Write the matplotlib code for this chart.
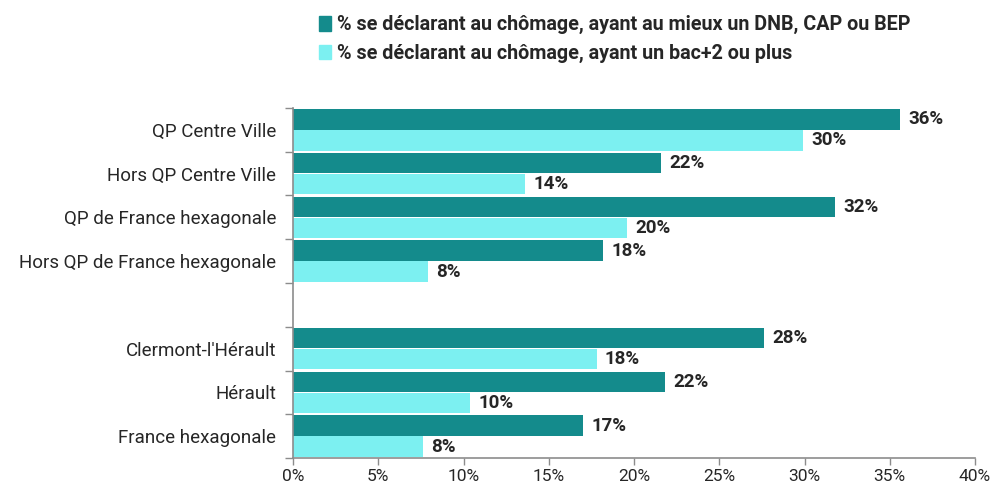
import numpy as np
import matplotlib
matplotlib.use("Agg")
import matplotlib.pyplot as plt
from matplotlib.patches import Patch

plt.rcParams['font.family'] = ['Roboto', 'DejaVu Sans']

categories = ["QP Centre Ville", "Hors QP Centre Ville", "QP de France hexagonale",
              "Hors QP de France hexagonale", "Clermont-l'Hérault", "Hérault",
              "France hexagonale"]
slots = [0, 1, 2, 3, 5, 6, 7]  # blank slot between the two groups
dnb = [35.6, 21.6, 31.8, 18.2, 27.6, 21.8, 17.0]
bac2 = [29.9, 13.6, 19.6, 7.9, 17.8, 10.4, 7.6]
series_names = ["% se déclarant au chômage, ayant au mieux un DNB, CAP ou BEP",
                "% se déclarant au chômage, ayant un bac+2 ou plus"]

dark = '#148b8c'
light = '#7cf0f1'
txt = '#262626'

fig = plt.figure(figsize=(9.91, 4.86), dpi=100)
ax = fig.add_axes([0.2957, 0.0576, 0.6882, 0.7202])

y = np.array(slots, dtype=float)
h = 0.47
ax.barh(y - 0.24, dnb, height=h, color=dark)
ax.barh(y + 0.24, bac2, height=h, color=light)

for yi, v in zip(y - 0.24, dnb):
    ax.annotate(f"{v:.0f}%", (v, yi), xytext=(6, 0), textcoords='offset points',
                va='center', ha='left', fontsize=13.5, fontweight='bold', color=txt)
for yi, v in zip(y + 0.24, bac2):
    ax.annotate(f"{v:.0f}%", (v, yi), xytext=(6, 0), textcoords='offset points',
                va='center', ha='left', fontsize=13.5, fontweight='bold', color=txt)

ax.set_xlim(0, 40)
ax.set_ylim(7.5, -0.5)
ax.set_xticks(np.arange(0, 41, 5))
ax.set_xticklabels([f"{t}%" for t in range(0, 41, 5)], fontsize=12.5, color=txt)
ax.set_yticks(y)
ax.set_yticklabels(categories, fontsize=13.5, color=txt)
ax.set_yticks(np.arange(-0.5, 8, 1), minor=True)
ax.tick_params(axis='y', which='major', length=0, pad=12)
ax.tick_params(axis='y', which='minor', length=6, color='#8c8c8c', width=1)
ax.tick_params(axis='x', length=5, color='#8c8c8c', width=1, pad=3)

for s in ['top', 'right']:
    ax.spines[s].set_visible(False)
for s in ['left', 'bottom']:
    ax.spines[s].set_color('#8c8c8c')
    ax.spines[s].set_linewidth(1.2)

handles = [Patch(color=dark), Patch(color=light)]
fig.legend(handles, series_names, loc='upper left', bbox_to_anchor=(0.314, 0.985),
           frameon=False, prop={'size': 14.2, 'weight': 'bold'},
           handlelength=0.6, handleheight=0.75, handletextpad=0.3,
           labelspacing=0.5, labelcolor=txt, borderaxespad=0)

fig.savefig("out.png", dpi=100)
